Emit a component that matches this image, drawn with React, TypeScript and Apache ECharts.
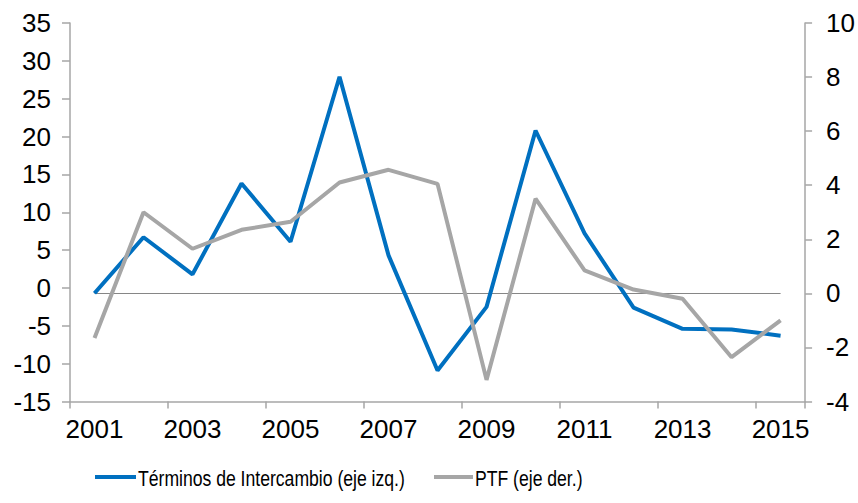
import React, { useEffect, useRef } from "react";
import * as echarts from "echarts";

const years = ["2001", "2002", "2003", "2004", "2005", "2006", "2007", "2008", "2009", "2010", "2011", "2012", "2013", "2014", "2015"];
const terminosIntercambio = [-0.7, 6.7, 1.8, 13.8, 6.1, 27.9, 4.3, -10.9, -2.5, 20.8, 7.2, -2.6, -5.4, -5.5, -6.3];
const ptf = [-1.65, 3.0, 1.65, 2.35, 2.65, 4.1, 4.57, 4.05, -3.2, 3.5, 0.85, 0.14, -0.2, -2.36, -1.0];
const leftAxis = { min: -15, max: 35, interval: 5 };
const rightAxis = { min: -4, max: 10, interval: 2 };
const seriesNames = ["Términos de Intercambio (eje izq.)", "PTF (eje der.)"];
const seriesColors = ["#0070c0", "#a6a6a6"];

export default function App() {
  const ref = useRef<HTMLDivElement>(null);
  useEffect(() => {
    if (!ref.current) return;
    const chart = echarts.init(ref.current, undefined, { renderer: "svg" });
    const axisColor = "#a6a6a6";
    const labelFont = { color: "#000", fontSize: 26, fontFamily: "Liberation Sans, Arial, sans-serif" };
    const legendFont = "22px Liberation Sans, Arial, sans-serif";
    const legendY = 477;
    const legendItem = (x0: number, lineW: number, idx: number) => ({
      type: "group",
      children: [
        {
          type: "line",
          shape: { x1: x0, y1: legendY, x2: x0 + lineW, y2: legendY },
          style: { stroke: seriesColors[idx], lineWidth: 4 },
        },
        {
          type: "text",
          x: x0 + lineW + 2,
          y: legendY + 1,
          scaleX: 0.8,
          style: { text: seriesNames[idx], font: legendFont, fill: "#000", textVerticalAlign: "middle", textAlign: "left" },
        },
      ],
    });
    chart.setOption({
      animation: false,
      backgroundColor: "#fff",
      grid: { left: 70, right: 52, top: 23, bottom: 101.5, containLabel: false },
      graphic: [legendItem(95, 41, 0), legendItem(434, 39, 1)],
      xAxis: {
        type: "category",
        data: years,
        boundaryGap: true,
        axisLine: { show: true, onZero: false, lineStyle: { color: axisColor, width: 1.5 } },
        axisTick: { show: true, interval: 1, length: 7, lineStyle: { color: axisColor, width: 1.5 } },
        axisLabel: { ...labelFont, interval: 1, margin: 14 },
        splitLine: { show: false },
      },
      yAxis: [
        {
          type: "value",
          min: leftAxis.min,
          max: leftAxis.max,
          interval: leftAxis.interval,
          position: "left",
          axisLine: { show: true, lineStyle: { color: axisColor, width: 1.5 } },
          axisTick: { show: true, length: 8, lineStyle: { color: axisColor, width: 1.5 } },
          axisLabel: { ...labelFont, margin: 19 },
          splitLine: { show: false },
        },
        {
          type: "value",
          min: rightAxis.min,
          max: rightAxis.max,
          interval: rightAxis.interval,
          position: "right",
          axisLine: { show: true, lineStyle: { color: axisColor, width: 1.5 } },
          axisTick: { show: true, length: 7, lineStyle: { color: axisColor, width: 1.5 } },
          axisLabel: { ...labelFont, margin: 21 },
          splitLine: { show: false },
        },
      ],
      series: [
        {
          name: seriesNames[0],
          type: "line",
          yAxisIndex: 0,
          data: terminosIntercambio,
          symbol: "none",
          color: seriesColors[0],
          lineStyle: { color: seriesColors[0], width: 4 },
        },
        {
          name: seriesNames[1],
          type: "line",
          yAxisIndex: 1,
          data: ptf,
          symbol: "none",
          color: seriesColors[1],
          lineStyle: { color: seriesColors[1], width: 4 },
          markLine: {
            silent: true,
            symbol: "none",
            label: { show: false },
            lineStyle: { color: "#868686", width: 1.2, type: "solid" },
            data: [[{ coord: [years[0], 0] }, { coord: [years[years.length - 1], 0] }]],
            z: 1,
          },
        },
      ],
    });
    return () => chart.dispose();
  }, []);
  return <div ref={ref} style={{ position: "fixed", left: 0, top: 0, width: 858, height: 503 }} />;
}
